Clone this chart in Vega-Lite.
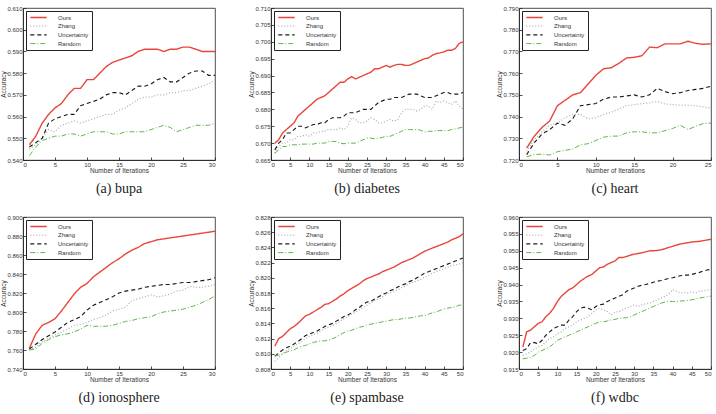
{
"$schema":"https://vega.github.io/schema/vega-lite/v6.json",
"padding":{"left":0,"top":4,"right":0,"bottom":0},
"config":{
 "font":"Liberation Sans",
 "view":{"stroke":"#222","strokeWidth":0.8},
 "axis":{"labelFont":"Liberation Sans","labelFontSize":6,"labelColor":"#333","titleFont":"Liberation Sans","titleFontSize":6.5,"titleFontWeight":"normal","titleColor":"#333","grid":false,"domainColor":"#222","tickColor":"#222","tickSize":-3,"labelPadding":4,"domainWidth":0.8,"tickWidth":0.8,"titlePadding":0},
 "legend":{"orient":"none","legendX":3,"legendY":3,"strokeColor":"#222222","fillColor":"#ffffff","padding":3,"labelFont":"Liberation Sans","labelFontSize":6,"labelColor":"#333","symbolType":"M-3,0H3","symbolSize":30,"symbolOffset":6,"symbolStrokeWidth":1.3,"labelOffset":16,"rowPadding":1.7,"cornerRadius":0},
 "title":{"font":"Liberation Serif","fontSize":14,"fontWeight":"normal","color":"#222","orient":"bottom","offset":8,"anchor":"middle"},
 "line":{"strokeCap":"butt"}
},
"datasets":{
"bupa":[
{"m":"Ours","i":1,"a":0.547},{"m":"Ours","i":2,"a":0.551},{"m":"Ours","i":3,"a":0.557},{"m":"Ours","i":4,"a":0.561},{"m":"Ours","i":5,"a":0.564},{"m":"Ours","i":6,"a":0.566},{"m":"Ours","i":7,"a":0.570},{"m":"Ours","i":8,"a":0.573},{"m":"Ours","i":9,"a":0.573},{"m":"Ours","i":10,"a":0.577},{"m":"Ours","i":11,"a":0.577},{"m":"Ours","i":12,"a":0.580},{"m":"Ours","i":13,"a":0.583},{"m":"Ours","i":14,"a":0.585},{"m":"Ours","i":15,"a":0.586},{"m":"Ours","i":16,"a":0.587},{"m":"Ours","i":17,"a":0.588},{"m":"Ours","i":18,"a":0.590},{"m":"Ours","i":19,"a":0.591},{"m":"Ours","i":20,"a":0.591},{"m":"Ours","i":21,"a":0.591},{"m":"Ours","i":22,"a":0.590},{"m":"Ours","i":23,"a":0.591},{"m":"Ours","i":24,"a":0.591},{"m":"Ours","i":25,"a":0.592},{"m":"Ours","i":26,"a":0.592},{"m":"Ours","i":27,"a":0.591},{"m":"Ours","i":28,"a":0.590},{"m":"Ours","i":29,"a":0.590},{"m":"Ours","i":30,"a":0.590},
{"m":"Zhang","i":1,"a":0.545},{"m":"Zhang","i":2,"a":0.547},{"m":"Zhang","i":3,"a":0.550},{"m":"Zhang","i":4,"a":0.554},{"m":"Zhang","i":5,"a":0.553},{"m":"Zhang","i":6,"a":0.556},{"m":"Zhang","i":7,"a":0.557},{"m":"Zhang","i":8,"a":0.558},{"m":"Zhang","i":9,"a":0.557},{"m":"Zhang","i":10,"a":0.558},{"m":"Zhang","i":11,"a":0.559},{"m":"Zhang","i":12,"a":0.560},{"m":"Zhang","i":13,"a":0.561},{"m":"Zhang","i":14,"a":0.561},{"m":"Zhang","i":15,"a":0.563},{"m":"Zhang","i":16,"a":0.564},{"m":"Zhang","i":17,"a":0.566},{"m":"Zhang","i":18,"a":0.568},{"m":"Zhang","i":19,"a":0.569},{"m":"Zhang","i":20,"a":0.569},{"m":"Zhang","i":21,"a":0.570},{"m":"Zhang","i":22,"a":0.570},{"m":"Zhang","i":23,"a":0.571},{"m":"Zhang","i":24,"a":0.571},{"m":"Zhang","i":25,"a":0.572},{"m":"Zhang","i":26,"a":0.572},{"m":"Zhang","i":27,"a":0.573},{"m":"Zhang","i":28,"a":0.574},{"m":"Zhang","i":29,"a":0.575},{"m":"Zhang","i":30,"a":0.577},
{"m":"Uncertainty","i":1,"a":0.546},{"m":"Uncertainty","i":2,"a":0.548},{"m":"Uncertainty","i":3,"a":0.550},{"m":"Uncertainty","i":4,"a":0.557},{"m":"Uncertainty","i":5,"a":0.559},{"m":"Uncertainty","i":6,"a":0.560},{"m":"Uncertainty","i":7,"a":0.561},{"m":"Uncertainty","i":8,"a":0.561},{"m":"Uncertainty","i":9,"a":0.565},{"m":"Uncertainty","i":10,"a":0.566},{"m":"Uncertainty","i":11,"a":0.567},{"m":"Uncertainty","i":12,"a":0.568},{"m":"Uncertainty","i":13,"a":0.570},{"m":"Uncertainty","i":14,"a":0.571},{"m":"Uncertainty","i":15,"a":0.571},{"m":"Uncertainty","i":16,"a":0.570},{"m":"Uncertainty","i":17,"a":0.572},{"m":"Uncertainty","i":18,"a":0.574},{"m":"Uncertainty","i":19,"a":0.574},{"m":"Uncertainty","i":20,"a":0.575},{"m":"Uncertainty","i":21,"a":0.577},{"m":"Uncertainty","i":22,"a":0.578},{"m":"Uncertainty","i":23,"a":0.576},{"m":"Uncertainty","i":24,"a":0.576},{"m":"Uncertainty","i":25,"a":0.578},{"m":"Uncertainty","i":26,"a":0.580},{"m":"Uncertainty","i":27,"a":0.581},{"m":"Uncertainty","i":28,"a":0.581},{"m":"Uncertainty","i":29,"a":0.579},{"m":"Uncertainty","i":30,"a":0.579},
{"m":"Random","i":1,"a":0.542},{"m":"Random","i":2,"a":0.546},{"m":"Random","i":3,"a":0.549},{"m":"Random","i":4,"a":0.550},{"m":"Random","i":5,"a":0.551},{"m":"Random","i":6,"a":0.551},{"m":"Random","i":7,"a":0.552},{"m":"Random","i":8,"a":0.552},{"m":"Random","i":9,"a":0.551},{"m":"Random","i":10,"a":0.552},{"m":"Random","i":11,"a":0.553},{"m":"Random","i":12,"a":0.553},{"m":"Random","i":13,"a":0.553},{"m":"Random","i":14,"a":0.552},{"m":"Random","i":15,"a":0.552},{"m":"Random","i":16,"a":0.553},{"m":"Random","i":17,"a":0.553},{"m":"Random","i":18,"a":0.553},{"m":"Random","i":19,"a":0.553},{"m":"Random","i":20,"a":0.554},{"m":"Random","i":21,"a":0.555},{"m":"Random","i":22,"a":0.556},{"m":"Random","i":23,"a":0.555},{"m":"Random","i":24,"a":0.553},{"m":"Random","i":25,"a":0.554},{"m":"Random","i":26,"a":0.555},{"m":"Random","i":27,"a":0.556},{"m":"Random","i":28,"a":0.556},{"m":"Random","i":29,"a":0.556},{"m":"Random","i":30,"a":0.557}
],
"diabetes":[
{"m":"Ours","i":1,"a":0.670},{"m":"Ours","i":2,"a":0.671},{"m":"Ours","i":3,"a":0.673},{"m":"Ours","i":4,"a":0.674},{"m":"Ours","i":5,"a":0.675},{"m":"Ours","i":6,"a":0.676},{"m":"Ours","i":7,"a":0.678},{"m":"Ours","i":8,"a":0.679},{"m":"Ours","i":9,"a":0.680},{"m":"Ours","i":10,"a":0.681},{"m":"Ours","i":11,"a":0.682},{"m":"Ours","i":12,"a":0.683},{"m":"Ours","i":13,"a":0.6835},{"m":"Ours","i":14,"a":0.684},{"m":"Ours","i":15,"a":0.685},{"m":"Ours","i":16,"a":0.686},{"m":"Ours","i":17,"a":0.687},{"m":"Ours","i":18,"a":0.688},{"m":"Ours","i":19,"a":0.688},{"m":"Ours","i":20,"a":0.689},{"m":"Ours","i":21,"a":0.6897},{"m":"Ours","i":22,"a":0.689},{"m":"Ours","i":23,"a":0.6895},{"m":"Ours","i":24,"a":0.690},{"m":"Ours","i":25,"a":0.6905},{"m":"Ours","i":26,"a":0.691},{"m":"Ours","i":27,"a":0.692},{"m":"Ours","i":28,"a":0.692},{"m":"Ours","i":29,"a":0.6925},{"m":"Ours","i":30,"a":0.693},{"m":"Ours","i":31,"a":0.6925},{"m":"Ours","i":32,"a":0.693},{"m":"Ours","i":33,"a":0.6933},{"m":"Ours","i":34,"a":0.6933},{"m":"Ours","i":35,"a":0.693},{"m":"Ours","i":36,"a":0.693},{"m":"Ours","i":37,"a":0.6935},{"m":"Ours","i":38,"a":0.694},{"m":"Ours","i":39,"a":0.6945},{"m":"Ours","i":40,"a":0.695},{"m":"Ours","i":41,"a":0.6952},{"m":"Ours","i":42,"a":0.696},{"m":"Ours","i":43,"a":0.6965},{"m":"Ours","i":44,"a":0.6967},{"m":"Ours","i":45,"a":0.697},{"m":"Ours","i":46,"a":0.6975},{"m":"Ours","i":47,"a":0.6975},{"m":"Ours","i":48,"a":0.698},{"m":"Ours","i":49,"a":0.6995},{"m":"Ours","i":50,"a":0.700},
{"m":"Zhang","i":1,"a":0.667},{"m":"Zhang","i":2,"a":0.669},{"m":"Zhang","i":3,"a":0.670},{"m":"Zhang","i":4,"a":0.670},{"m":"Zhang","i":5,"a":0.671},{"m":"Zhang","i":6,"a":0.671},{"m":"Zhang","i":7,"a":0.672},{"m":"Zhang","i":8,"a":0.672},{"m":"Zhang","i":9,"a":0.6725},{"m":"Zhang","i":10,"a":0.672},{"m":"Zhang","i":11,"a":0.673},{"m":"Zhang","i":12,"a":0.673},{"m":"Zhang","i":13,"a":0.6735},{"m":"Zhang","i":14,"a":0.6735},{"m":"Zhang","i":15,"a":0.674},{"m":"Zhang","i":16,"a":0.674},{"m":"Zhang","i":17,"a":0.674},{"m":"Zhang","i":18,"a":0.6745},{"m":"Zhang","i":19,"a":0.674},{"m":"Zhang","i":20,"a":0.675},{"m":"Zhang","i":21,"a":0.6775},{"m":"Zhang","i":22,"a":0.677},{"m":"Zhang","i":23,"a":0.676},{"m":"Zhang","i":24,"a":0.676},{"m":"Zhang","i":25,"a":0.6765},{"m":"Zhang","i":26,"a":0.6775},{"m":"Zhang","i":27,"a":0.677},{"m":"Zhang","i":28,"a":0.676},{"m":"Zhang","i":29,"a":0.676},{"m":"Zhang","i":30,"a":0.6765},{"m":"Zhang","i":31,"a":0.677},{"m":"Zhang","i":32,"a":0.6765},{"m":"Zhang","i":33,"a":0.677},{"m":"Zhang","i":34,"a":0.679},{"m":"Zhang","i":35,"a":0.680},{"m":"Zhang","i":36,"a":0.680},{"m":"Zhang","i":37,"a":0.680},{"m":"Zhang","i":38,"a":0.6795},{"m":"Zhang","i":39,"a":0.680},{"m":"Zhang","i":40,"a":0.681},{"m":"Zhang","i":41,"a":0.681},{"m":"Zhang","i":42,"a":0.680},{"m":"Zhang","i":43,"a":0.6825},{"m":"Zhang","i":44,"a":0.682},{"m":"Zhang","i":45,"a":0.6825},{"m":"Zhang","i":46,"a":0.682},{"m":"Zhang","i":47,"a":0.6815},{"m":"Zhang","i":48,"a":0.6825},{"m":"Zhang","i":49,"a":0.681},{"m":"Zhang","i":50,"a":0.680},
{"m":"Uncertainty","i":1,"a":0.668},{"m":"Uncertainty","i":2,"a":0.670},{"m":"Uncertainty","i":3,"a":0.671},{"m":"Uncertainty","i":4,"a":0.673},{"m":"Uncertainty","i":5,"a":0.673},{"m":"Uncertainty","i":6,"a":0.674},{"m":"Uncertainty","i":7,"a":0.675},{"m":"Uncertainty","i":8,"a":0.675},{"m":"Uncertainty","i":9,"a":0.6745},{"m":"Uncertainty","i":10,"a":0.675},{"m":"Uncertainty","i":11,"a":0.6755},{"m":"Uncertainty","i":12,"a":0.6755},{"m":"Uncertainty","i":13,"a":0.676},{"m":"Uncertainty","i":14,"a":0.676},{"m":"Uncertainty","i":15,"a":0.677},{"m":"Uncertainty","i":16,"a":0.6775},{"m":"Uncertainty","i":17,"a":0.6775},{"m":"Uncertainty","i":18,"a":0.6775},{"m":"Uncertainty","i":19,"a":0.678},{"m":"Uncertainty","i":20,"a":0.679},{"m":"Uncertainty","i":21,"a":0.679},{"m":"Uncertainty","i":22,"a":0.679},{"m":"Uncertainty","i":23,"a":0.6795},{"m":"Uncertainty","i":24,"a":0.680},{"m":"Uncertainty","i":25,"a":0.680},{"m":"Uncertainty","i":26,"a":0.680},{"m":"Uncertainty","i":27,"a":0.681},{"m":"Uncertainty","i":28,"a":0.682},{"m":"Uncertainty","i":29,"a":0.6825},{"m":"Uncertainty","i":30,"a":0.683},{"m":"Uncertainty","i":31,"a":0.683},{"m":"Uncertainty","i":32,"a":0.6835},{"m":"Uncertainty","i":33,"a":0.6835},{"m":"Uncertainty","i":34,"a":0.6835},{"m":"Uncertainty","i":35,"a":0.684},{"m":"Uncertainty","i":36,"a":0.6845},{"m":"Uncertainty","i":37,"a":0.6845},{"m":"Uncertainty","i":38,"a":0.6845},{"m":"Uncertainty","i":39,"a":0.684},{"m":"Uncertainty","i":40,"a":0.6835},{"m":"Uncertainty","i":41,"a":0.6835},{"m":"Uncertainty","i":42,"a":0.6835},{"m":"Uncertainty","i":43,"a":0.684},{"m":"Uncertainty","i":44,"a":0.6845},{"m":"Uncertainty","i":45,"a":0.685},{"m":"Uncertainty","i":46,"a":0.685},{"m":"Uncertainty","i":47,"a":0.6845},{"m":"Uncertainty","i":48,"a":0.6845},{"m":"Uncertainty","i":49,"a":0.6845},{"m":"Uncertainty","i":50,"a":0.685},
{"m":"Random","i":1,"a":0.667},{"m":"Random","i":2,"a":0.668},{"m":"Random","i":3,"a":0.669},{"m":"Random","i":4,"a":0.669},{"m":"Random","i":5,"a":0.6695},{"m":"Random","i":6,"a":0.6695},{"m":"Random","i":7,"a":0.6695},{"m":"Random","i":8,"a":0.6697},{"m":"Random","i":9,"a":0.6697},{"m":"Random","i":10,"a":0.6697},{"m":"Random","i":11,"a":0.6697},{"m":"Random","i":12,"a":0.670},{"m":"Random","i":13,"a":0.670},{"m":"Random","i":14,"a":0.670},{"m":"Random","i":15,"a":0.6705},{"m":"Random","i":16,"a":0.6705},{"m":"Random","i":17,"a":0.6705},{"m":"Random","i":18,"a":0.670},{"m":"Random","i":19,"a":0.6698},{"m":"Random","i":20,"a":0.670},{"m":"Random","i":21,"a":0.670},{"m":"Random","i":22,"a":0.670},{"m":"Random","i":23,"a":0.6705},{"m":"Random","i":24,"a":0.671},{"m":"Random","i":25,"a":0.6715},{"m":"Random","i":26,"a":0.6715},{"m":"Random","i":27,"a":0.6713},{"m":"Random","i":28,"a":0.6715},{"m":"Random","i":29,"a":0.6717},{"m":"Random","i":30,"a":0.672},{"m":"Random","i":31,"a":0.672},{"m":"Random","i":32,"a":0.6725},{"m":"Random","i":33,"a":0.673},{"m":"Random","i":34,"a":0.6735},{"m":"Random","i":35,"a":0.674},{"m":"Random","i":36,"a":0.674},{"m":"Random","i":37,"a":0.674},{"m":"Random","i":38,"a":0.674},{"m":"Random","i":39,"a":0.6738},{"m":"Random","i":40,"a":0.6733},{"m":"Random","i":41,"a":0.6735},{"m":"Random","i":42,"a":0.6735},{"m":"Random","i":43,"a":0.6737},{"m":"Random","i":44,"a":0.6737},{"m":"Random","i":45,"a":0.6737},{"m":"Random","i":46,"a":0.6737},{"m":"Random","i":47,"a":0.674},{"m":"Random","i":48,"a":0.6742},{"m":"Random","i":49,"a":0.6745},{"m":"Random","i":50,"a":0.6747}
],
"heart":[
{"m":"Ours","i":1,"a":0.7255},{"m":"Ours","i":2,"a":0.731},{"m":"Ours","i":3,"a":0.735},{"m":"Ours","i":4,"a":0.738},{"m":"Ours","i":5,"a":0.745},{"m":"Ours","i":6,"a":0.7475},{"m":"Ours","i":7,"a":0.750},{"m":"Ours","i":8,"a":0.751},{"m":"Ours","i":9,"a":0.755},{"m":"Ours","i":10,"a":0.759},{"m":"Ours","i":11,"a":0.762},{"m":"Ours","i":12,"a":0.7625},{"m":"Ours","i":13,"a":0.7645},{"m":"Ours","i":14,"a":0.767},{"m":"Ours","i":15,"a":0.7673},{"m":"Ours","i":16,"a":0.768},{"m":"Ours","i":17,"a":0.772},{"m":"Ours","i":18,"a":0.7717},{"m":"Ours","i":19,"a":0.7735},{"m":"Ours","i":20,"a":0.7735},{"m":"Ours","i":21,"a":0.7735},{"m":"Ours","i":22,"a":0.7747},{"m":"Ours","i":23,"a":0.7737},{"m":"Ours","i":24,"a":0.7733},{"m":"Ours","i":25,"a":0.7735},
{"m":"Zhang","i":1,"a":0.724},{"m":"Zhang","i":2,"a":0.7295},{"m":"Zhang","i":3,"a":0.733},{"m":"Zhang","i":4,"a":0.736},{"m":"Zhang","i":5,"a":0.737},{"m":"Zhang","i":6,"a":0.7395},{"m":"Zhang","i":7,"a":0.741},{"m":"Zhang","i":8,"a":0.741},{"m":"Zhang","i":9,"a":0.739},{"m":"Zhang","i":10,"a":0.7395},{"m":"Zhang","i":11,"a":0.741},{"m":"Zhang","i":12,"a":0.742},{"m":"Zhang","i":13,"a":0.7435},{"m":"Zhang","i":14,"a":0.745},{"m":"Zhang","i":15,"a":0.7455},{"m":"Zhang","i":16,"a":0.746},{"m":"Zhang","i":17,"a":0.7463},{"m":"Zhang","i":18,"a":0.747},{"m":"Zhang","i":19,"a":0.7458},{"m":"Zhang","i":20,"a":0.7455},{"m":"Zhang","i":21,"a":0.7453},{"m":"Zhang","i":22,"a":0.7452},{"m":"Zhang","i":23,"a":0.745},{"m":"Zhang","i":24,"a":0.7445},{"m":"Zhang","i":25,"a":0.744},
{"m":"Uncertainty","i":1,"a":0.7225},{"m":"Uncertainty","i":2,"a":0.728},{"m":"Uncertainty","i":3,"a":0.732},{"m":"Uncertainty","i":4,"a":0.734},{"m":"Uncertainty","i":5,"a":0.737},{"m":"Uncertainty","i":6,"a":0.736},{"m":"Uncertainty","i":7,"a":0.739},{"m":"Uncertainty","i":8,"a":0.745},{"m":"Uncertainty","i":9,"a":0.7455},{"m":"Uncertainty","i":10,"a":0.746},{"m":"Uncertainty","i":11,"a":0.748},{"m":"Uncertainty","i":12,"a":0.749},{"m":"Uncertainty","i":13,"a":0.749},{"m":"Uncertainty","i":14,"a":0.7495},{"m":"Uncertainty","i":15,"a":0.750},{"m":"Uncertainty","i":16,"a":0.749},{"m":"Uncertainty","i":17,"a":0.750},{"m":"Uncertainty","i":18,"a":0.753},{"m":"Uncertainty","i":19,"a":0.7515},{"m":"Uncertainty","i":20,"a":0.7505},{"m":"Uncertainty","i":21,"a":0.751},{"m":"Uncertainty","i":22,"a":0.752},{"m":"Uncertainty","i":23,"a":0.7525},{"m":"Uncertainty","i":24,"a":0.753},{"m":"Uncertainty","i":25,"a":0.754},
{"m":"Random","i":1,"a":0.7215},{"m":"Random","i":2,"a":0.7225},{"m":"Random","i":3,"a":0.7227},{"m":"Random","i":4,"a":0.7223},{"m":"Random","i":5,"a":0.7238},{"m":"Random","i":6,"a":0.7245},{"m":"Random","i":7,"a":0.725},{"m":"Random","i":8,"a":0.727},{"m":"Random","i":9,"a":0.7275},{"m":"Random","i":10,"a":0.729},{"m":"Random","i":11,"a":0.7305},{"m":"Random","i":12,"a":0.731},{"m":"Random","i":13,"a":0.731},{"m":"Random","i":14,"a":0.7325},{"m":"Random","i":15,"a":0.733},{"m":"Random","i":16,"a":0.733},{"m":"Random","i":17,"a":0.7325},{"m":"Random","i":18,"a":0.7325},{"m":"Random","i":19,"a":0.7335},{"m":"Random","i":20,"a":0.7345},{"m":"Random","i":21,"a":0.736},{"m":"Random","i":22,"a":0.734},{"m":"Random","i":23,"a":0.7355},{"m":"Random","i":24,"a":0.7368},{"m":"Random","i":25,"a":0.737}
],
"ionosphere":[
{"m":"Ours","i":1,"a":0.762},{"m":"Ours","i":2,"a":0.777},{"m":"Ours","i":3,"a":0.786},{"m":"Ours","i":4,"a":0.789},{"m":"Ours","i":5,"a":0.793},{"m":"Ours","i":6,"a":0.801},{"m":"Ours","i":7,"a":0.810},{"m":"Ours","i":8,"a":0.819},{"m":"Ours","i":9,"a":0.826},{"m":"Ours","i":10,"a":0.830},{"m":"Ours","i":11,"a":0.837},{"m":"Ours","i":12,"a":0.842},{"m":"Ours","i":13,"a":0.847},{"m":"Ours","i":14,"a":0.852},{"m":"Ours","i":15,"a":0.856},{"m":"Ours","i":16,"a":0.861},{"m":"Ours","i":17,"a":0.865},{"m":"Ours","i":18,"a":0.868},{"m":"Ours","i":19,"a":0.872},{"m":"Ours","i":20,"a":0.874},{"m":"Ours","i":21,"a":0.876},{"m":"Ours","i":22,"a":0.877},{"m":"Ours","i":23,"a":0.878},{"m":"Ours","i":24,"a":0.879},{"m":"Ours","i":25,"a":0.880},{"m":"Ours","i":26,"a":0.881},{"m":"Ours","i":27,"a":0.882},{"m":"Ours","i":28,"a":0.883},{"m":"Ours","i":29,"a":0.884},{"m":"Ours","i":30,"a":0.885},
{"m":"Zhang","i":1,"a":0.760},{"m":"Zhang","i":2,"a":0.763},{"m":"Zhang","i":3,"a":0.769},{"m":"Zhang","i":4,"a":0.772},{"m":"Zhang","i":5,"a":0.776},{"m":"Zhang","i":6,"a":0.779},{"m":"Zhang","i":7,"a":0.782},{"m":"Zhang","i":8,"a":0.786},{"m":"Zhang","i":9,"a":0.787},{"m":"Zhang","i":10,"a":0.789},{"m":"Zhang","i":11,"a":0.792},{"m":"Zhang","i":12,"a":0.794},{"m":"Zhang","i":13,"a":0.797},{"m":"Zhang","i":14,"a":0.801},{"m":"Zhang","i":15,"a":0.803},{"m":"Zhang","i":16,"a":0.805},{"m":"Zhang","i":17,"a":0.812},{"m":"Zhang","i":18,"a":0.814},{"m":"Zhang","i":19,"a":0.816},{"m":"Zhang","i":20,"a":0.818},{"m":"Zhang","i":21,"a":0.816},{"m":"Zhang","i":22,"a":0.817},{"m":"Zhang","i":23,"a":0.819},{"m":"Zhang","i":24,"a":0.822},{"m":"Zhang","i":25,"a":0.823},{"m":"Zhang","i":26,"a":0.827},{"m":"Zhang","i":27,"a":0.826},{"m":"Zhang","i":28,"a":0.826},{"m":"Zhang","i":29,"a":0.827},{"m":"Zhang","i":30,"a":0.829},
{"m":"Uncertainty","i":1,"a":0.761},{"m":"Uncertainty","i":2,"a":0.766},{"m":"Uncertainty","i":3,"a":0.771},{"m":"Uncertainty","i":4,"a":0.775},{"m":"Uncertainty","i":5,"a":0.779},{"m":"Uncertainty","i":6,"a":0.784},{"m":"Uncertainty","i":7,"a":0.789},{"m":"Uncertainty","i":8,"a":0.792},{"m":"Uncertainty","i":9,"a":0.795},{"m":"Uncertainty","i":10,"a":0.802},{"m":"Uncertainty","i":11,"a":0.807},{"m":"Uncertainty","i":12,"a":0.810},{"m":"Uncertainty","i":13,"a":0.813},{"m":"Uncertainty","i":14,"a":0.816},{"m":"Uncertainty","i":15,"a":0.820},{"m":"Uncertainty","i":16,"a":0.822},{"m":"Uncertainty","i":17,"a":0.823},{"m":"Uncertainty","i":18,"a":0.824},{"m":"Uncertainty","i":19,"a":0.826},{"m":"Uncertainty","i":20,"a":0.827},{"m":"Uncertainty","i":21,"a":0.828},{"m":"Uncertainty","i":22,"a":0.829},{"m":"Uncertainty","i":23,"a":0.829},{"m":"Uncertainty","i":24,"a":0.830},{"m":"Uncertainty","i":25,"a":0.831},{"m":"Uncertainty","i":26,"a":0.831},{"m":"Uncertainty","i":27,"a":0.832},{"m":"Uncertainty","i":28,"a":0.833},{"m":"Uncertainty","i":29,"a":0.834},{"m":"Uncertainty","i":30,"a":0.836},
{"m":"Random","i":1,"a":0.760},{"m":"Random","i":2,"a":0.761},{"m":"Random","i":3,"a":0.767},{"m":"Random","i":4,"a":0.771},{"m":"Random","i":5,"a":0.774},{"m":"Random","i":6,"a":0.776},{"m":"Random","i":7,"a":0.777},{"m":"Random","i":8,"a":0.779},{"m":"Random","i":9,"a":0.782},{"m":"Random","i":10,"a":0.786},{"m":"Random","i":11,"a":0.785},{"m":"Random","i":12,"a":0.785},{"m":"Random","i":13,"a":0.785},{"m":"Random","i":14,"a":0.786},{"m":"Random","i":15,"a":0.788},{"m":"Random","i":16,"a":0.790},{"m":"Random","i":17,"a":0.791},{"m":"Random","i":18,"a":0.793},{"m":"Random","i":19,"a":0.794},{"m":"Random","i":20,"a":0.795},{"m":"Random","i":21,"a":0.798},{"m":"Random","i":22,"a":0.800},{"m":"Random","i":23,"a":0.801},{"m":"Random","i":24,"a":0.802},{"m":"Random","i":25,"a":0.803},{"m":"Random","i":26,"a":0.805},{"m":"Random","i":27,"a":0.807},{"m":"Random","i":28,"a":0.810},{"m":"Random","i":29,"a":0.813},{"m":"Random","i":30,"a":0.817}
],
"spambase":[
{"m":"Ours","i":1,"a":0.811},{"m":"Ours","i":2,"a":0.812},{"m":"Ours","i":3,"a":0.8123},{"m":"Ours","i":4,"a":0.8128},{"m":"Ours","i":5,"a":0.8133},{"m":"Ours","i":6,"a":0.8136},{"m":"Ours","i":7,"a":0.814},{"m":"Ours","i":8,"a":0.8145},{"m":"Ours","i":9,"a":0.815},{"m":"Ours","i":10,"a":0.8152},{"m":"Ours","i":11,"a":0.8155},{"m":"Ours","i":12,"a":0.8158},{"m":"Ours","i":13,"a":0.8161},{"m":"Ours","i":14,"a":0.8165},{"m":"Ours","i":15,"a":0.8166},{"m":"Ours","i":16,"a":0.8169},{"m":"Ours","i":17,"a":0.8172},{"m":"Ours","i":18,"a":0.8176},{"m":"Ours","i":19,"a":0.8179},{"m":"Ours","i":20,"a":0.8183},{"m":"Ours","i":21,"a":0.8186},{"m":"Ours","i":22,"a":0.8189},{"m":"Ours","i":23,"a":0.8192},{"m":"Ours","i":24,"a":0.8196},{"m":"Ours","i":25,"a":0.8199},{"m":"Ours","i":26,"a":0.8201},{"m":"Ours","i":27,"a":0.8203},{"m":"Ours","i":28,"a":0.8205},{"m":"Ours","i":29,"a":0.8208},{"m":"Ours","i":30,"a":0.821},{"m":"Ours","i":31,"a":0.8212},{"m":"Ours","i":32,"a":0.8214},{"m":"Ours","i":33,"a":0.8217},{"m":"Ours","i":34,"a":0.822},{"m":"Ours","i":35,"a":0.8222},{"m":"Ours","i":36,"a":0.8224},{"m":"Ours","i":37,"a":0.8226},{"m":"Ours","i":38,"a":0.8229},{"m":"Ours","i":39,"a":0.8232},{"m":"Ours","i":40,"a":0.8235},{"m":"Ours","i":41,"a":0.8237},{"m":"Ours","i":42,"a":0.8239},{"m":"Ours","i":43,"a":0.8241},{"m":"Ours","i":44,"a":0.8243},{"m":"Ours","i":45,"a":0.8245},{"m":"Ours","i":46,"a":0.8247},{"m":"Ours","i":47,"a":0.825},{"m":"Ours","i":48,"a":0.8252},{"m":"Ours","i":49,"a":0.8254},{"m":"Ours","i":50,"a":0.8258},
{"m":"Zhang","i":1,"a":0.809},{"m":"Zhang","i":2,"a":0.8095},{"m":"Zhang","i":3,"a":0.81},{"m":"Zhang","i":4,"a":0.8104},{"m":"Zhang","i":5,"a":0.8107},{"m":"Zhang","i":6,"a":0.811},{"m":"Zhang","i":7,"a":0.8113},{"m":"Zhang","i":8,"a":0.8116},{"m":"Zhang","i":9,"a":0.812},{"m":"Zhang","i":10,"a":0.8123},{"m":"Zhang","i":11,"a":0.8125},{"m":"Zhang","i":12,"a":0.8127},{"m":"Zhang","i":13,"a":0.813},{"m":"Zhang","i":14,"a":0.8133},{"m":"Zhang","i":15,"a":0.8135},{"m":"Zhang","i":16,"a":0.8137},{"m":"Zhang","i":17,"a":0.814},{"m":"Zhang","i":18,"a":0.8143},{"m":"Zhang","i":19,"a":0.8146},{"m":"Zhang","i":20,"a":0.8149},{"m":"Zhang","i":21,"a":0.8152},{"m":"Zhang","i":22,"a":0.8155},{"m":"Zhang","i":23,"a":0.8158},{"m":"Zhang","i":24,"a":0.8161},{"m":"Zhang","i":25,"a":0.8164},{"m":"Zhang","i":26,"a":0.8167},{"m":"Zhang","i":27,"a":0.817},{"m":"Zhang","i":28,"a":0.8172},{"m":"Zhang","i":29,"a":0.8175},{"m":"Zhang","i":30,"a":0.8178},{"m":"Zhang","i":31,"a":0.818},{"m":"Zhang","i":32,"a":0.8182},{"m":"Zhang","i":33,"a":0.8184},{"m":"Zhang","i":34,"a":0.8187},{"m":"Zhang","i":35,"a":0.8189},{"m":"Zhang","i":36,"a":0.8192},{"m":"Zhang","i":37,"a":0.8194},{"m":"Zhang","i":38,"a":0.8196},{"m":"Zhang","i":39,"a":0.8198},{"m":"Zhang","i":40,"a":0.8201},{"m":"Zhang","i":41,"a":0.8203},{"m":"Zhang","i":42,"a":0.8206},{"m":"Zhang","i":43,"a":0.8208},{"m":"Zhang","i":44,"a":0.821},{"m":"Zhang","i":45,"a":0.8212},{"m":"Zhang","i":46,"a":0.8214},{"m":"Zhang","i":47,"a":0.8216},{"m":"Zhang","i":48,"a":0.8217},{"m":"Zhang","i":49,"a":0.8218},{"m":"Zhang","i":50,"a":0.822},
{"m":"Uncertainty","i":1,"a":0.8097},{"m":"Uncertainty","i":2,"a":0.8101},{"m":"Uncertainty","i":3,"a":0.8105},{"m":"Uncertainty","i":4,"a":0.8108},{"m":"Uncertainty","i":5,"a":0.811},{"m":"Uncertainty","i":6,"a":0.8113},{"m":"Uncertainty","i":7,"a":0.8116},{"m":"Uncertainty","i":8,"a":0.812},{"m":"Uncertainty","i":9,"a":0.8124},{"m":"Uncertainty","i":10,"a":0.8126},{"m":"Uncertainty","i":11,"a":0.8128},{"m":"Uncertainty","i":12,"a":0.813},{"m":"Uncertainty","i":13,"a":0.8133},{"m":"Uncertainty","i":14,"a":0.8136},{"m":"Uncertainty","i":15,"a":0.8138},{"m":"Uncertainty","i":16,"a":0.814},{"m":"Uncertainty","i":17,"a":0.8143},{"m":"Uncertainty","i":18,"a":0.8146},{"m":"Uncertainty","i":19,"a":0.8149},{"m":"Uncertainty","i":20,"a":0.8151},{"m":"Uncertainty","i":21,"a":0.8154},{"m":"Uncertainty","i":22,"a":0.8158},{"m":"Uncertainty","i":23,"a":0.8161},{"m":"Uncertainty","i":24,"a":0.8165},{"m":"Uncertainty","i":25,"a":0.8168},{"m":"Uncertainty","i":26,"a":0.8169},{"m":"Uncertainty","i":27,"a":0.8172},{"m":"Uncertainty","i":28,"a":0.8175},{"m":"Uncertainty","i":29,"a":0.8178},{"m":"Uncertainty","i":30,"a":0.818},{"m":"Uncertainty","i":31,"a":0.8183},{"m":"Uncertainty","i":32,"a":0.8185},{"m":"Uncertainty","i":33,"a":0.8188},{"m":"Uncertainty","i":34,"a":0.819},{"m":"Uncertainty","i":35,"a":0.8192},{"m":"Uncertainty","i":36,"a":0.8195},{"m":"Uncertainty","i":37,"a":0.8197},{"m":"Uncertainty","i":38,"a":0.82},{"m":"Uncertainty","i":39,"a":0.8203},{"m":"Uncertainty","i":40,"a":0.8206},{"m":"Uncertainty","i":41,"a":0.8208},{"m":"Uncertainty","i":42,"a":0.821},{"m":"Uncertainty","i":43,"a":0.8212},{"m":"Uncertainty","i":44,"a":0.8214},{"m":"Uncertainty","i":45,"a":0.8216},{"m":"Uncertainty","i":46,"a":0.8218},{"m":"Uncertainty","i":47,"a":0.822},{"m":"Uncertainty","i":48,"a":0.8222},{"m":"Uncertainty","i":49,"a":0.8224},{"m":"Uncertainty","i":50,"a":0.8226},
{"m":"Random","i":1,"a":0.8097},{"m":"Random","i":2,"a":0.8098},{"m":"Random","i":3,"a":0.81},{"m":"Random","i":4,"a":0.8102},{"m":"Random","i":5,"a":0.8104},{"m":"Random","i":6,"a":0.8105},{"m":"Random","i":7,"a":0.8108},{"m":"Random","i":8,"a":0.811},{"m":"Random","i":9,"a":0.8111},{"m":"Random","i":10,"a":0.8113},{"m":"Random","i":11,"a":0.8115},{"m":"Random","i":12,"a":0.8116},{"m":"Random","i":13,"a":0.8117},{"m":"Random","i":14,"a":0.8117},{"m":"Random","i":15,"a":0.8118},{"m":"Random","i":16,"a":0.812},{"m":"Random","i":17,"a":0.8122},{"m":"Random","i":18,"a":0.8125},{"m":"Random","i":19,"a":0.8128},{"m":"Random","i":20,"a":0.813},{"m":"Random","i":21,"a":0.8131},{"m":"Random","i":22,"a":0.8133},{"m":"Random","i":23,"a":0.8135},{"m":"Random","i":24,"a":0.8136},{"m":"Random","i":25,"a":0.8138},{"m":"Random","i":26,"a":0.8139},{"m":"Random","i":27,"a":0.814},{"m":"Random","i":28,"a":0.8141},{"m":"Random","i":29,"a":0.8142},{"m":"Random","i":30,"a":0.8143},{"m":"Random","i":31,"a":0.8144},{"m":"Random","i":32,"a":0.8145},{"m":"Random","i":33,"a":0.8145},{"m":"Random","i":34,"a":0.8146},{"m":"Random","i":35,"a":0.8147},{"m":"Random","i":36,"a":0.8147},{"m":"Random","i":37,"a":0.8148},{"m":"Random","i":38,"a":0.8149},{"m":"Random","i":39,"a":0.815},{"m":"Random","i":40,"a":0.815},{"m":"Random","i":41,"a":0.8152},{"m":"Random","i":42,"a":0.8154},{"m":"Random","i":43,"a":0.8155},{"m":"Random","i":44,"a":0.8157},{"m":"Random","i":45,"a":0.8159},{"m":"Random","i":46,"a":0.816},{"m":"Random","i":47,"a":0.8161},{"m":"Random","i":48,"a":0.8162},{"m":"Random","i":49,"a":0.8164},{"m":"Random","i":50,"a":0.8164}
],
"wdbc":[
{"m":"Ours","i":1,"a":0.9215},{"m":"Ours","i":2,"a":0.926},{"m":"Ours","i":3,"a":0.9265},{"m":"Ours","i":4,"a":0.9275},{"m":"Ours","i":5,"a":0.9285},{"m":"Ours","i":6,"a":0.929},{"m":"Ours","i":7,"a":0.9305},{"m":"Ours","i":8,"a":0.9315},{"m":"Ours","i":9,"a":0.933},{"m":"Ours","i":10,"a":0.935},{"m":"Ours","i":11,"a":0.9365},{"m":"Ours","i":12,"a":0.9375},{"m":"Ours","i":13,"a":0.9385},{"m":"Ours","i":14,"a":0.939},{"m":"Ours","i":15,"a":0.94},{"m":"Ours","i":16,"a":0.941},{"m":"Ours","i":17,"a":0.9418},{"m":"Ours","i":18,"a":0.9425},{"m":"Ours","i":19,"a":0.943},{"m":"Ours","i":20,"a":0.944},{"m":"Ours","i":21,"a":0.945},{"m":"Ours","i":22,"a":0.9452},{"m":"Ours","i":23,"a":0.946},{"m":"Ours","i":24,"a":0.9465},{"m":"Ours","i":25,"a":0.947},{"m":"Ours","i":26,"a":0.948},{"m":"Ours","i":27,"a":0.948},{"m":"Ours","i":28,"a":0.9483},{"m":"Ours","i":29,"a":0.9487},{"m":"Ours","i":30,"a":0.949},{"m":"Ours","i":31,"a":0.9492},{"m":"Ours","i":32,"a":0.9494},{"m":"Ours","i":33,"a":0.9497},{"m":"Ours","i":34,"a":0.95},{"m":"Ours","i":35,"a":0.95},{"m":"Ours","i":36,"a":0.9501},{"m":"Ours","i":37,"a":0.9503},{"m":"Ours","i":38,"a":0.9506},{"m":"Ours","i":39,"a":0.951},{"m":"Ours","i":40,"a":0.9513},{"m":"Ours","i":41,"a":0.9517},{"m":"Ours","i":42,"a":0.952},{"m":"Ours","i":43,"a":0.9522},{"m":"Ours","i":44,"a":0.9524},{"m":"Ours","i":45,"a":0.9526},{"m":"Ours","i":46,"a":0.9527},{"m":"Ours","i":47,"a":0.9528},{"m":"Ours","i":48,"a":0.953},{"m":"Ours","i":49,"a":0.9532},{"m":"Ours","i":50,"a":0.9534},
{"m":"Zhang","i":1,"a":0.919},{"m":"Zhang","i":2,"a":0.9195},{"m":"Zhang","i":3,"a":0.92},{"m":"Zhang","i":4,"a":0.921},{"m":"Zhang","i":5,"a":0.9215},{"m":"Zhang","i":6,"a":0.922},{"m":"Zhang","i":7,"a":0.923},{"m":"Zhang","i":8,"a":0.924},{"m":"Zhang","i":9,"a":0.9245},{"m":"Zhang","i":10,"a":0.9255},{"m":"Zhang","i":11,"a":0.926},{"m":"Zhang","i":12,"a":0.927},{"m":"Zhang","i":13,"a":0.9275},{"m":"Zhang","i":14,"a":0.928},{"m":"Zhang","i":15,"a":0.929},{"m":"Zhang","i":16,"a":0.9295},{"m":"Zhang","i":17,"a":0.93},{"m":"Zhang","i":18,"a":0.9305},{"m":"Zhang","i":19,"a":0.9315},{"m":"Zhang","i":20,"a":0.9325},{"m":"Zhang","i":21,"a":0.933},{"m":"Zhang","i":22,"a":0.9325},{"m":"Zhang","i":23,"a":0.932},{"m":"Zhang","i":24,"a":0.931},{"m":"Zhang","i":25,"a":0.9318},{"m":"Zhang","i":26,"a":0.932},{"m":"Zhang","i":27,"a":0.9325},{"m":"Zhang","i":28,"a":0.933},{"m":"Zhang","i":29,"a":0.9335},{"m":"Zhang","i":30,"a":0.934},{"m":"Zhang","i":31,"a":0.9335},{"m":"Zhang","i":32,"a":0.934},{"m":"Zhang","i":33,"a":0.9343},{"m":"Zhang","i":34,"a":0.9345},{"m":"Zhang","i":35,"a":0.935},{"m":"Zhang","i":36,"a":0.9355},{"m":"Zhang","i":37,"a":0.936},{"m":"Zhang","i":38,"a":0.9365},{"m":"Zhang","i":39,"a":0.9372},{"m":"Zhang","i":40,"a":0.9385},{"m":"Zhang","i":41,"a":0.938},{"m":"Zhang","i":42,"a":0.9375},{"m":"Zhang","i":43,"a":0.9377},{"m":"Zhang","i":44,"a":0.9375},{"m":"Zhang","i":45,"a":0.9378},{"m":"Zhang","i":46,"a":0.9375},{"m":"Zhang","i":47,"a":0.938},{"m":"Zhang","i":48,"a":0.9382},{"m":"Zhang","i":49,"a":0.9383},{"m":"Zhang","i":50,"a":0.9385},
{"m":"Uncertainty","i":1,"a":0.9205},{"m":"Uncertainty","i":2,"a":0.921},{"m":"Uncertainty","i":3,"a":0.9228},{"m":"Uncertainty","i":4,"a":0.9228},{"m":"Uncertainty","i":5,"a":0.9225},{"m":"Uncertainty","i":6,"a":0.9235},{"m":"Uncertainty","i":7,"a":0.925},{"m":"Uncertainty","i":8,"a":0.926},{"m":"Uncertainty","i":9,"a":0.927},{"m":"Uncertainty","i":10,"a":0.9275},{"m":"Uncertainty","i":11,"a":0.928},{"m":"Uncertainty","i":12,"a":0.928},{"m":"Uncertainty","i":13,"a":0.9295},{"m":"Uncertainty","i":14,"a":0.9305},{"m":"Uncertainty","i":15,"a":0.932},{"m":"Uncertainty","i":16,"a":0.933},{"m":"Uncertainty","i":17,"a":0.9333},{"m":"Uncertainty","i":18,"a":0.933},{"m":"Uncertainty","i":19,"a":0.9325},{"m":"Uncertainty","i":20,"a":0.9335},{"m":"Uncertainty","i":21,"a":0.934},{"m":"Uncertainty","i":22,"a":0.9342},{"m":"Uncertainty","i":23,"a":0.935},{"m":"Uncertainty","i":24,"a":0.9355},{"m":"Uncertainty","i":25,"a":0.936},{"m":"Uncertainty","i":26,"a":0.9365},{"m":"Uncertainty","i":27,"a":0.937},{"m":"Uncertainty","i":28,"a":0.938},{"m":"Uncertainty","i":29,"a":0.9385},{"m":"Uncertainty","i":30,"a":0.939},{"m":"Uncertainty","i":31,"a":0.9395},{"m":"Uncertainty","i":32,"a":0.9398},{"m":"Uncertainty","i":33,"a":0.94},{"m":"Uncertainty","i":34,"a":0.9403},{"m":"Uncertainty","i":35,"a":0.9407},{"m":"Uncertainty","i":36,"a":0.941},{"m":"Uncertainty","i":37,"a":0.9412},{"m":"Uncertainty","i":38,"a":0.9415},{"m":"Uncertainty","i":39,"a":0.9418},{"m":"Uncertainty","i":40,"a":0.942},{"m":"Uncertainty","i":41,"a":0.9423},{"m":"Uncertainty","i":42,"a":0.9426},{"m":"Uncertainty","i":43,"a":0.9428},{"m":"Uncertainty","i":44,"a":0.9428},{"m":"Uncertainty","i":45,"a":0.943},{"m":"Uncertainty","i":46,"a":0.9433},{"m":"Uncertainty","i":47,"a":0.9436},{"m":"Uncertainty","i":48,"a":0.944},{"m":"Uncertainty","i":49,"a":0.9443},{"m":"Uncertainty","i":50,"a":0.9445},
{"m":"Random","i":1,"a":0.918},{"m":"Random","i":2,"a":0.9182},{"m":"Random","i":3,"a":0.9185},{"m":"Random","i":4,"a":0.919},{"m":"Random","i":5,"a":0.92},{"m":"Random","i":6,"a":0.9205},{"m":"Random","i":7,"a":0.921},{"m":"Random","i":8,"a":0.9215},{"m":"Random","i":9,"a":0.9225},{"m":"Random","i":10,"a":0.9235},{"m":"Random","i":11,"a":0.924},{"m":"Random","i":12,"a":0.9245},{"m":"Random","i":13,"a":0.925},{"m":"Random","i":14,"a":0.9255},{"m":"Random","i":15,"a":0.926},{"m":"Random","i":16,"a":0.9265},{"m":"Random","i":17,"a":0.927},{"m":"Random","i":18,"a":0.9275},{"m":"Random","i":19,"a":0.928},{"m":"Random","i":20,"a":0.9285},{"m":"Random","i":21,"a":0.929},{"m":"Random","i":22,"a":0.929},{"m":"Random","i":23,"a":0.9292},{"m":"Random","i":24,"a":0.9295},{"m":"Random","i":25,"a":0.9297},{"m":"Random","i":26,"a":0.93},{"m":"Random","i":27,"a":0.9301},{"m":"Random","i":28,"a":0.9302},{"m":"Random","i":29,"a":0.9305},{"m":"Random","i":30,"a":0.931},{"m":"Random","i":31,"a":0.9315},{"m":"Random","i":32,"a":0.932},{"m":"Random","i":33,"a":0.9325},{"m":"Random","i":34,"a":0.933},{"m":"Random","i":35,"a":0.9335},{"m":"Random","i":36,"a":0.934},{"m":"Random","i":37,"a":0.9345},{"m":"Random","i":38,"a":0.9348},{"m":"Random","i":39,"a":0.935},{"m":"Random","i":40,"a":0.935},{"m":"Random","i":41,"a":0.935},{"m":"Random","i":42,"a":0.9351},{"m":"Random","i":43,"a":0.9352},{"m":"Random","i":44,"a":0.9353},{"m":"Random","i":45,"a":0.9355},{"m":"Random","i":46,"a":0.9357},{"m":"Random","i":47,"a":0.936},{"m":"Random","i":48,"a":0.9362},{"m":"Random","i":49,"a":0.9364},{"m":"Random","i":50,"a":0.9366}
]
},
"columns":3,
"spacing":{"column":29,"row":17},
"resolve":{"scale":{"x":"independent","y":"independent","color":"independent","strokeDash":"independent","strokeWidth":"independent"},"legend":{"color":"independent"},"axis":{"x":"independent","y":"independent"}},
"concat":[
{"width":192,"height":152,"data":{"name":"bupa"},"title":{"text":"(a)  bupa"},"mark":{"type":"line"},
 "encoding":{
  "x":{"field":"i","type":"quantitative","scale":{"domain":[0,30],"nice":false},"axis":{"title":"Number of Iterations","values":[0,5,10,15,20,25,30]}},
  "y":{"field":"a","type":"quantitative","scale":{"domain":[0.54,0.61],"nice":false,"zero":false},"axis":{"title":"Accuracy","format":".3f","values":[0.54,0.55,0.56,0.57,0.58,0.59,0.6,0.61]}},
  "color":{"field":"m","type":"nominal","scale":{"domain":["Ours","Zhang","Uncertainty","Random"],"range":["#e8463c","#a9b0b3","#1a1a1a","#5cb845"]},"legend":{"title":null,"encode":{"symbols":{"update":{"strokeDash":{"signal":"datum.value === 'Zhang' ? [1,2] : datum.value === 'Uncertainty' ? [4,3] : datum.value === 'Random' ? [5,2,1,2] : [1,0]"},"strokeWidth":{"signal":"datum.value === 'Ours' || datum.value === 'Uncertainty' ? 1.5 : 1"}}}}}},
  "strokeDash":{"field":"m","type":"nominal","scale":{"domain":["Ours","Zhang","Uncertainty","Random"],"range":[[1,0],[1,2],[4,3],[5,2,1,2]]},"legend":null},
  "strokeWidth":{"field":"m","type":"nominal","scale":{"domain":["Ours","Zhang","Uncertainty","Random"],"range":[1.4,1,1.5,1]},"legend":null}
 }},
{"width":192,"height":152,"data":{"name":"diabetes"},"title":{"text":"(b)  diabetes"},"mark":{"type":"line"},
 "encoding":{
  "x":{"field":"i","type":"quantitative","scale":{"domain":[0,50],"nice":false},"axis":{"title":"Number of Iterations","values":[0,5,10,15,20,25,30,35,40,45,50]}},
  "y":{"field":"a","type":"quantitative","scale":{"domain":[0.665,0.71],"nice":false,"zero":false},"axis":{"title":"Accuracy","format":".3f","values":[0.665,0.67,0.675,0.68,0.685,0.69,0.695,0.7,0.705,0.71]}},
  "color":{"field":"m","type":"nominal","scale":{"domain":["Ours","Zhang","Uncertainty","Random"],"range":["#e8463c","#a9b0b3","#1a1a1a","#5cb845"]},"legend":{"title":null,"encode":{"symbols":{"update":{"strokeDash":{"signal":"datum.value === 'Zhang' ? [1,2] : datum.value === 'Uncertainty' ? [4,3] : datum.value === 'Random' ? [5,2,1,2] : [1,0]"},"strokeWidth":{"signal":"datum.value === 'Ours' || datum.value === 'Uncertainty' ? 1.5 : 1"}}}}}},
  "strokeDash":{"field":"m","type":"nominal","scale":{"domain":["Ours","Zhang","Uncertainty","Random"],"range":[[1,0],[1,2],[4,3],[5,2,1,2]]},"legend":null},
  "strokeWidth":{"field":"m","type":"nominal","scale":{"domain":["Ours","Zhang","Uncertainty","Random"],"range":[1.4,1,1.5,1]},"legend":null}
 }},
{"width":192,"height":152,"data":{"name":"heart"},"title":{"text":"(c)  heart"},"mark":{"type":"line"},
 "encoding":{
  "x":{"field":"i","type":"quantitative","scale":{"domain":[0,25],"nice":false},"axis":{"title":"Number of Iterations","values":[0,5,10,15,20,25]}},
  "y":{"field":"a","type":"quantitative","scale":{"domain":[0.72,0.79],"nice":false,"zero":false},"axis":{"title":"Accuracy","format":".3f","values":[0.72,0.73,0.74,0.75,0.76,0.77,0.78,0.79]}},
  "color":{"field":"m","type":"nominal","scale":{"domain":["Ours","Zhang","Uncertainty","Random"],"range":["#e8463c","#a9b0b3","#1a1a1a","#5cb845"]},"legend":{"title":null,"encode":{"symbols":{"update":{"strokeDash":{"signal":"datum.value === 'Zhang' ? [1,2] : datum.value === 'Uncertainty' ? [4,3] : datum.value === 'Random' ? [5,2,1,2] : [1,0]"},"strokeWidth":{"signal":"datum.value === 'Ours' || datum.value === 'Uncertainty' ? 1.5 : 1"}}}}}},
  "strokeDash":{"field":"m","type":"nominal","scale":{"domain":["Ours","Zhang","Uncertainty","Random"],"range":[[1,0],[1,2],[4,3],[5,2,1,2]]},"legend":null},
  "strokeWidth":{"field":"m","type":"nominal","scale":{"domain":["Ours","Zhang","Uncertainty","Random"],"range":[1.4,1,1.5,1]},"legend":null}
 }},
{"width":192,"height":152,"data":{"name":"ionosphere"},"title":{"text":"(d)  ionosphere"},"mark":{"type":"line"},
 "encoding":{
  "x":{"field":"i","type":"quantitative","scale":{"domain":[0,30],"nice":false},"axis":{"title":"Number of Iterations","values":[0,5,10,15,20,25,30]}},
  "y":{"field":"a","type":"quantitative","scale":{"domain":[0.74,0.9],"nice":false,"zero":false},"axis":{"title":"Accuracy","format":".3f","values":[0.74,0.76,0.78,0.8,0.82,0.84,0.86,0.88,0.9]}},
  "color":{"field":"m","type":"nominal","scale":{"domain":["Ours","Zhang","Uncertainty","Random"],"range":["#e8463c","#a9b0b3","#1a1a1a","#5cb845"]},"legend":{"title":null,"encode":{"symbols":{"update":{"strokeDash":{"signal":"datum.value === 'Zhang' ? [1,2] : datum.value === 'Uncertainty' ? [4,3] : datum.value === 'Random' ? [5,2,1,2] : [1,0]"},"strokeWidth":{"signal":"datum.value === 'Ours' || datum.value === 'Uncertainty' ? 1.5 : 1"}}}}}},
  "strokeDash":{"field":"m","type":"nominal","scale":{"domain":["Ours","Zhang","Uncertainty","Random"],"range":[[1,0],[1,2],[4,3],[5,2,1,2]]},"legend":null},
  "strokeWidth":{"field":"m","type":"nominal","scale":{"domain":["Ours","Zhang","Uncertainty","Random"],"range":[1.4,1,1.5,1]},"legend":null}
 }},
{"width":192,"height":152,"data":{"name":"spambase"},"title":{"text":"(e)  spambase"},"mark":{"type":"line"},
 "encoding":{
  "x":{"field":"i","type":"quantitative","scale":{"domain":[0,50],"nice":false},"axis":{"title":"Number of Iterations","values":[0,5,10,15,20,25,30,35,40,45,50]}},
  "y":{"field":"a","type":"quantitative","scale":{"domain":[0.808,0.828],"nice":false,"zero":false},"axis":{"title":"Accuracy","format":".3f","values":[0.808,0.81,0.812,0.814,0.816,0.818,0.82,0.822,0.824,0.826,0.828]}},
  "color":{"field":"m","type":"nominal","scale":{"domain":["Ours","Zhang","Uncertainty","Random"],"range":["#e8463c","#a9b0b3","#1a1a1a","#5cb845"]},"legend":{"title":null,"encode":{"symbols":{"update":{"strokeDash":{"signal":"datum.value === 'Zhang' ? [1,2] : datum.value === 'Uncertainty' ? [4,3] : datum.value === 'Random' ? [5,2,1,2] : [1,0]"},"strokeWidth":{"signal":"datum.value === 'Ours' || datum.value === 'Uncertainty' ? 1.5 : 1"}}}}}},
  "strokeDash":{"field":"m","type":"nominal","scale":{"domain":["Ours","Zhang","Uncertainty","Random"],"range":[[1,0],[1,2],[4,3],[5,2,1,2]]},"legend":null},
  "strokeWidth":{"field":"m","type":"nominal","scale":{"domain":["Ours","Zhang","Uncertainty","Random"],"range":[1.4,1,1.5,1]},"legend":null}
 }},
{"width":192,"height":152,"data":{"name":"wdbc"},"title":{"text":"(f)  wdbc"},"mark":{"type":"line"},
 "encoding":{
  "x":{"field":"i","type":"quantitative","scale":{"domain":[0,50],"nice":false},"axis":{"title":"Number of Iterations","values":[0,5,10,15,20,25,30,35,40,45,50]}},
  "y":{"field":"a","type":"quantitative","scale":{"domain":[0.915,0.96],"nice":false,"zero":false},"axis":{"title":"Accuracy","format":".3f","values":[0.915,0.92,0.925,0.93,0.935,0.94,0.945,0.95,0.955,0.96]}},
  "color":{"field":"m","type":"nominal","scale":{"domain":["Ours","Zhang","Uncertainty","Random"],"range":["#e8463c","#a9b0b3","#1a1a1a","#5cb845"]},"legend":{"title":null,"encode":{"symbols":{"update":{"strokeDash":{"signal":"datum.value === 'Zhang' ? [1,2] : datum.value === 'Uncertainty' ? [4,3] : datum.value === 'Random' ? [5,2,1,2] : [1,0]"},"strokeWidth":{"signal":"datum.value === 'Ours' || datum.value === 'Uncertainty' ? 1.5 : 1"}}}}}},
  "strokeDash":{"field":"m","type":"nominal","scale":{"domain":["Ours","Zhang","Uncertainty","Random"],"range":[[1,0],[1,2],[4,3],[5,2,1,2]]},"legend":null},
  "strokeWidth":{"field":"m","type":"nominal","scale":{"domain":["Ours","Zhang","Uncertainty","Random"],"range":[1.4,1,1.5,1]},"legend":null}
 }}
]
}
